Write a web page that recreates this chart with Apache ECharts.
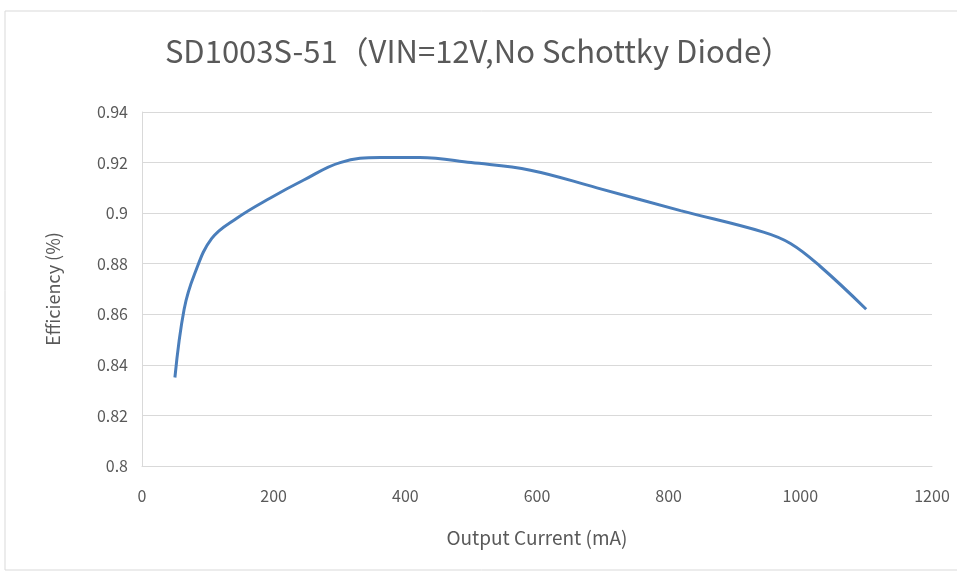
<!DOCTYPE html>
<html>
<head>
<meta charset="utf-8">
<script src="https://cdn.jsdelivr.net/npm/echarts@6/dist/echarts.min.js"></script>
<style>
  html, body { margin: 0; padding: 0; background: #fff; }
  #chart { width: 957px; height: 581px; }
</style>
</head>
<body>
<div id="chart"></div>
<script>
// output current (mA)
var current = [50, 64, 80, 106, 144, 195, 245, 301, 362, 422, 500, 590, 691, 818, 944, 985, 1030, 1100];
// efficiency at each point
var efficiency = [0.835, 0.862, 0.876, 0.890, 0.898, 0.906, 0.913, 0.920, 0.922, 0.922, 0.920, 0.917, 0.910, 0.901, 0.8925, 0.888, 0.879, 0.862];

var points = current.map(function (x, i) { return [x, efficiency[i]]; });

var chart = echarts.init(document.getElementById('chart'));
var labelColor = '#595959';
var font = 'Noto Sans CJK SC';
chart.setOption({
  animation: false,
  backgroundColor: '#fff',
  title: {
    text: 'SD1003S-51（VIN=12V,No Schottky Diode）',
    left: 'center',
    top: 31,
    textStyle: { color: labelColor, fontSize: 31, fontWeight: 'normal', fontFamily: font }
  },
  graphic: [{
    type: 'rect',
    shape: { x: 5, y: 11, width: 970, height: 559 },
    style: { fill: 'none', stroke: '#d9d9d9', lineWidth: 1 },
    silent: true
  }],
  grid: { left: 142, right: 25, top: 112, bottom: 115 },
  xAxis: {
    type: 'value',
    min: 0, max: 1200, interval: 200,
    name: 'Output Current (mA)',
    nameLocation: 'middle',
    nameGap: 62,
    nameTextStyle: { color: labelColor, fontSize: 19, fontFamily: font },
    axisLine: { lineStyle: { color: '#d9d9d9' } },
    axisTick: { show: false },
    splitLine: { show: false },
    axisLabel: {
      color: labelColor, fontSize: 16, margin: 22, fontFamily: font,
      formatter: function (v) { return String(v); }
    }
  },
  yAxis: {
    type: 'value',
    min: 0.8, max: 0.94, interval: 0.02,
    name: 'Efficiency (%)',
    nameLocation: 'middle',
    nameGap: 80,
    nameTextStyle: { color: labelColor, fontSize: 18, fontFamily: font },
    axisLine: { show: true, lineStyle: { color: '#d9d9d9' } },
    axisTick: { show: false },
    splitLine: { lineStyle: { color: '#d9d9d9' } },
    axisLabel: {
      color: labelColor, fontSize: 16, margin: 14, fontFamily: font,
      formatter: function (v) { return String(parseFloat(v.toFixed(2))); }
    }
  },
  series: [{
    type: 'line',
    data: points,
    smooth: 0.4,
    showSymbol: false,
    lineStyle: { color: '#4a7ebb', width: 3 }
  }]
});
</script>
</body>
</html>
